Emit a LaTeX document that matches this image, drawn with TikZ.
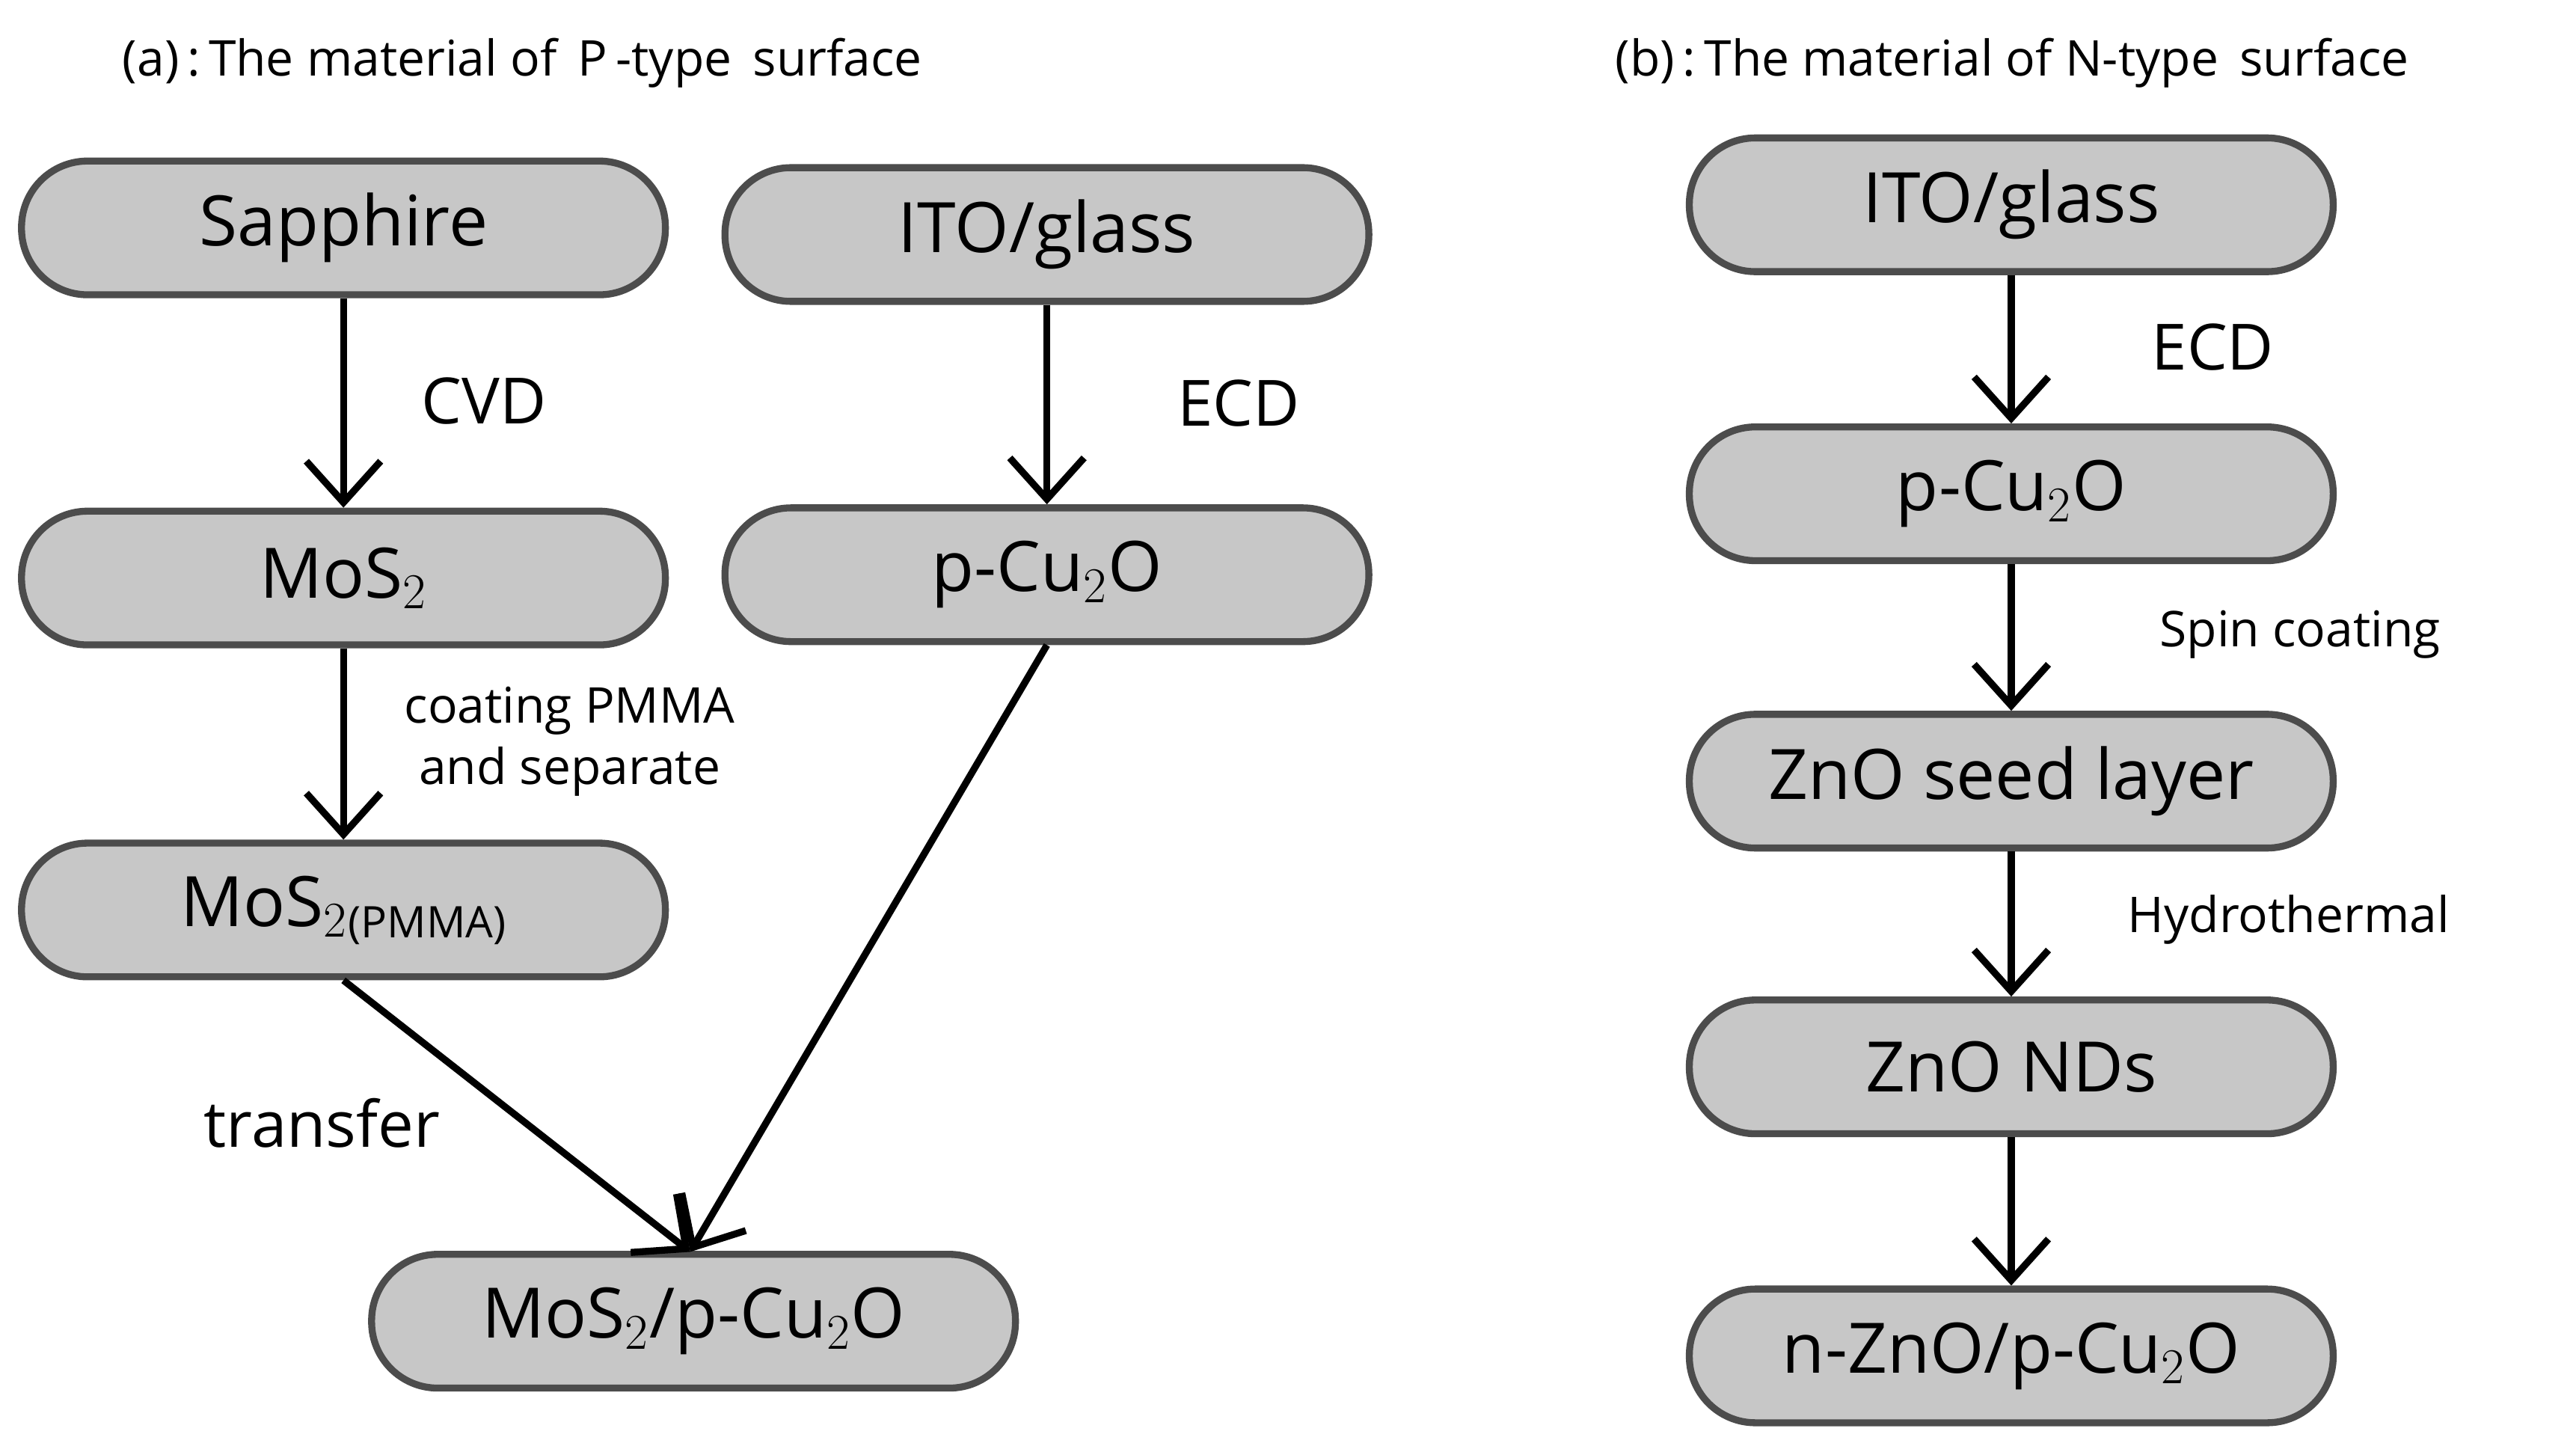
\documentclass[tikz,border=0pt]{standalone}
\usepackage{fontspec}
\setmainfont{Open Sans}
\usetikzlibrary{arrows.meta}
\begin{document}
\begin{tikzpicture}%
	[x=0.02cm, y=-0.02cm,
	box/.style={draw=black!70, fill=black!22, line width=2.4pt, rounded corners=0.8cm,
		minimum width=7.8cm, minimum height=1.62cm, font=\fontsize{24}{28}\selectfont},
	flow/.style={-{Straight Barb[length=5mm,width=9mm,line width=2.4pt]}, line width=2.4pt},
	lab/.style={font=\fontsize{22}{26}\selectfont},
	small/.style={font=\fontsize{17}{21}\selectfont, align=center},
	title/.style={font=\fontsize{17}{21}\selectfont, anchor=west}]
\useasboundingbox (0,0) rectangle (1560,879);
%%
%% Titles
%%
\node[title] (ta) at (68,38) {(a)\,:\,The material of\, P\,-type\, surface};
\node[title] (tb) at (972,38) {(b)\,:\,The material of N-type\, surface};
%%
%% Boxes of (a)
%%
\node[box] (sap) at (208,138) {Sapphire};
\node[box] (itoa) at (634,142) {ITO/glass};
\node[box] (mos) at (208,350) {MoS$_2$};
\node[box] (cua) at (634,348) {p-Cu$_2$O};
\node[box] (pmma) at (208,551) {MoS$_2$\raisebox{-0.3ex}{\fontsize{15}{18}\selectfont(PMMA)}};
\node[box] (het) at (420,800) {MoS$_2$/p-Cu$_2$O};
%%
%% Boxes of (b)
%%
\node[box] (itob) at (1218,124) {ITO/glass};
\node[box] (cub) at (1218,299) {p-Cu$_2$O};
\node[box] (seed) at (1218,473) {ZnO seed layer};
\node[box] (nds) at (1218,646) {ZnO NDs};
\node[box] (pn) at (1218,821) {n-ZnO/p-Cu$_2$O};
%%
%% Arrows
%%
\coordinate (meet) at (418,758);
\draw[flow] (sap) -- (mos);
\draw[flow] (itoa) -- (cua);
\draw[flow] (mos) -- (pmma);
\draw[flow] (pmma.south) -- (meet);
\draw[flow] (cua.south) -- (meet);
\draw[flow] (itob) -- (cub);
\draw[flow] (cub) -- (seed);
\draw[flow] (seed) -- (nds);
\draw[flow] (nds) -- (pn);
%%
%% Labels
%%
\node[lab] (cvd) at (293,243) {CVD};
\node[lab] (ecda) at (750,244) {ECD};
\node[small] (coat) at (345,449) {coating PMMA\\ and separate};
\node[lab] (trans) at (195,680) {transfer};
\node[lab] (ecdb) at (1340,210) {ECD};
\node[small] (spin) at (1393,384) {Spin coating};
\node[small] (hydro) at (1386,557) {Hydrothermal};
%%
\end{tikzpicture}
\end{document}
